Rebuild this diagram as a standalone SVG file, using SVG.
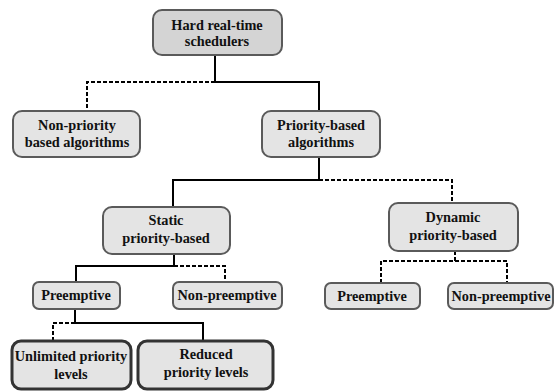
<svg xmlns="http://www.w3.org/2000/svg" width="556" height="391" viewBox="0 0 556 391">
<style>
.box{fill:#e4e4e4;stroke:#5a5a5a;stroke-width:2}
.top{fill:#d4d4d4}
.strong{stroke:#333;stroke-width:3}
text{font-family:"Liberation Serif","Times New Roman",serif;font-weight:bold;font-size:14.3px;text-anchor:middle;fill:#111}
.s{fill:none;stroke:#000;stroke-width:2}
.d{fill:none;stroke:#000;stroke-width:2;stroke-dasharray:4,2}
</style>
<rect width="556" height="391" fill="#fff"/>
<g id="connectors">
<path class="s" d="M215 55V82H319V111"/>
<path class="d" d="M215 82H87V111"/>
<path class="s" d="M319 157V180H173V207"/>
<path class="d" d="M319 180H452V203"/>
<path class="s" d="M174 254V266H76V282"/>
<path class="d" d="M174 266H225V282"/>
<path class="d" d="M455 251V261H381V283M455 261H507V283"/>
<path class="s" d="M75 309V323H203V341"/>
<path class="d" d="M75 323H53V341"/>
</g>
<g id="n_root"><rect class="box top" x="153" y="10" width="129" height="45" rx="9"/><text x="217" y="30">Hard real-time</text><text x="217" y="46">schedulers</text></g>
<g id="n_nonprio"><rect class="box" x="13" y="111" width="127" height="46" rx="9"/><text x="77" y="130">Non-priority</text><text x="77" y="147">based algorithms</text></g>
<g id="n_prio"><rect class="box" x="262" y="111" width="118" height="46" rx="9"/><text x="321" y="130">Priority-based</text><text x="321" y="147">algorithms</text></g>
<g id="n_static"><rect class="box" x="103" y="207" width="127" height="47" rx="9"/><text x="166" y="225">Static</text><text x="166" y="243">priority-based</text></g>
<g id="n_dynamic"><rect class="box" x="389" y="203" width="129" height="48" rx="9"/><text x="453" y="222">Dynamic</text><text x="453" y="240">priority-based</text></g>
<g id="n_s_pre"><rect class="box" x="33" y="282" width="87" height="27" rx="6"/><text x="76" y="300">Preemptive</text></g>
<g id="n_s_nonpre"><rect class="box" x="173" y="282" width="109" height="27" rx="6"/><text x="227" y="300">Non-preemptive</text></g>
<g id="n_d_pre"><rect class="box" x="325" y="283" width="95" height="26" rx="6"/><text x="372" y="301">Preemptive</text></g>
<g id="n_d_nonpre"><rect class="box" x="448" y="283" width="105" height="26" rx="6"/><text x="501" y="301">Non-preemptive</text></g>
<g id="n_unlimited"><rect class="box strong" x="12" y="341" width="119" height="48" rx="9"/><text x="71" y="361">Unlimited priority</text><text x="71" y="379">levels</text></g>
<g id="n_reduced"><rect class="box strong" x="138" y="341" width="135" height="48" rx="9"/><text x="206" y="359">Reduced</text><text x="206" y="377">priority levels</text></g>
</svg>
